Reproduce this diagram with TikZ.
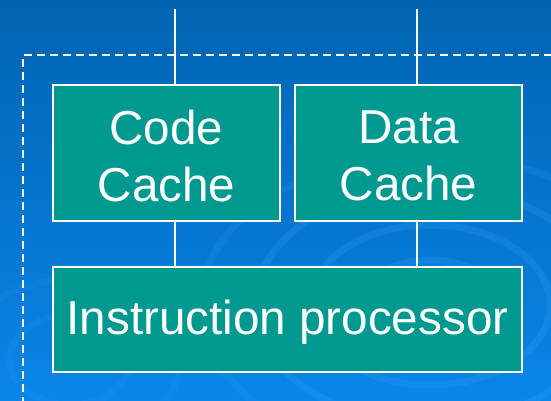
\documentclass[tikz,border=0pt]{standalone}
\usepackage{fontspec}
\setmainfont{Liberation Sans}
\definecolor{bgtop}{HTML}{0064B2}
\definecolor{bgbot}{HTML}{0A85E8}
\definecolor{swirl}{HTML}{3AA8FF}
\definecolor{boxfill}{HTML}{009990}
\tikzset{
  unit/.style={draw=white, line width=1.5pt, fill=boxfill, inner sep=0pt},
  caption/.style={text=white, align=center, inner sep=0pt,
    font=\fontsize{47.6}{57}\selectfont},
  bus/.style={draw=white, line width=1.4pt},
  frame/.style={draw=white, line width=1.5pt, dash pattern=on 8pt off 5pt},
  ring/.style={draw=swirl, opacity=0.2, line width=7pt}
}
\begin{document}
\begin{tikzpicture}[x=1pt, y=-1pt]
  % backdrop
  \useasboundingbox (0,0) rectangle (551,401);
  \shade[top color=bgtop, bottom color=bgbot] (0,0) rectangle (551,401);
  \begin{scope}
    \clip (0,0) rectangle (551,401);
    \draw[ring] (430,305) ellipse [x radius=70, y radius=45];
    \draw[ring] (430,305) ellipse [x radius=120, y radius=80];
    \draw[ring] (430,305) ellipse [x radius=175, y radius=118];
    \draw[ring, opacity=0.14] (430,305) ellipse [x radius=230, y radius=150];
    \draw[ring, opacity=0.11] (70,360) ellipse [x radius=60, y radius=45];
    \draw[ring, opacity=0.11] (70,360) ellipse [x radius=110, y radius=80];
  \end{scope}

  % dashed enclosure running off the right and bottom edges
  \draw[frame] (23,405) -- (23,55) -- (555,55);

  % units
  \node[unit, minimum width=227, minimum height=136] (cc) at (166.5,153) {};
  \node[unit, minimum width=227, minimum height=136] (dc) at (408.5,153) {};
  \node[unit, minimum width=469, minimum height=105] (ip) at (287.5,319.5) {};
  \node[caption] (cct) at ([yshift=-3pt]cc.center) {Code\\Cache};
  \node[caption] (dct) at ([yshift=-3pt]dc.center) {Data\\Cache};
  \node[caption] (ipt) at ([yshift=-3pt]ip.center) {Instruction processor};

  % buses
  \coordinate (t1) at (175,9);
  \coordinate (t2) at (417,9);
  \draw[bus] (t1) -- (t1 |- cc.north);
  \draw[bus] (t2) -- (t2 |- dc.north);
  \draw[bus] (cc.south -| t1) -- (ip.north -| t1);
  \draw[bus] (dc.south -| t2) -- (ip.north -| t2);
\end{tikzpicture}
\end{document}
